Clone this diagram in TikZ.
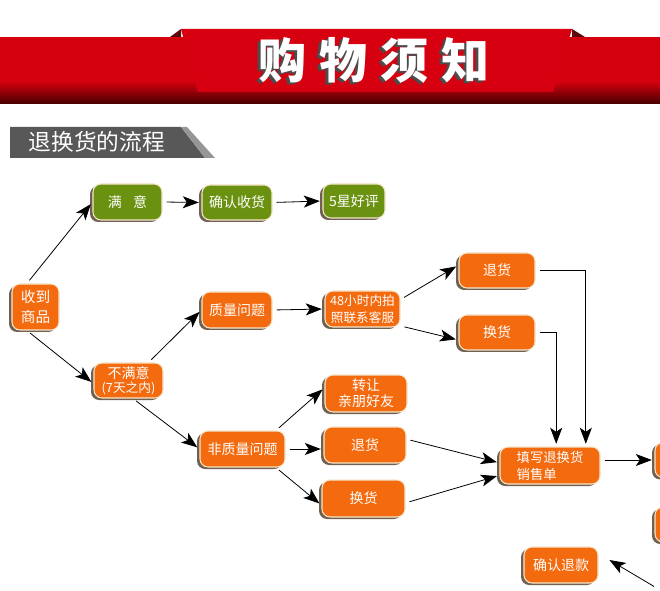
\documentclass[tikz,border=0pt]{standalone}
\usepackage{fontspec}
\usepackage{tikz}
\usetikzlibrary{arrows.meta}
\usetikzlibrary{shadows}
\newfontfamily\cjk{Noto Sans CJK SC}
\definecolor{bandred}{RGB}{212,0,14}
\definecolor{banddark}{RGB}{70,0,0}
\definecolor{ribbonred}{RGB}{214,0,16}
\definecolor{folddark}{RGB}{95,10,10}
\definecolor{tabgray}{RGB}{88,88,88}
\definecolor{tablight}{RGB}{150,150,150}
\definecolor{boxorange}{RGB}{244,106,14}
\definecolor{boxgreen}{RGB}{106,146,16}
\definecolor{boxedge}{RGB}{246,230,204}
\definecolor{boxshadow}{RGB}{112,96,80}

\tikzset{
  box/.style={rounded corners=6pt, draw=boxedge, line width=0.8pt, text=white, inner sep=0pt, align=center,
    font=\cjk\fontsize{10.5}{12.5}\selectfont,
    drop shadow={shadow xshift=-2.2pt, shadow yshift=-1.5pt, fill=boxshadow, opacity=1}},
  obox/.style={box, fill=boxorange},
  gbox/.style={box, fill=boxgreen},
  arr/.style={-{Stealth[length=12pt,width=9pt,inset=3pt]}, line width=0.6pt, shorten <=3pt, shorten >=2pt},
}

\begin{document}
\begin{tikzpicture}[x=0.75pt,y=0.75pt,yscale=-1,xscale=1]
\useasboundingbox (0,0) rectangle (660,591);
\clip (0,0) rectangle (660,591);

%Shape: Banner band
\fill[bandred] (0,37) rectangle (660,82);
\shade[top color=bandred, bottom color=banddark] (0,81.5) rectangle (660,104);
%Shape: Ribbon folds
\fill[folddark] (170,37) -- (181,29) -- (181,37) -- cycle;
\fill[folddark] (572,29) -- (585,37) -- (572,37) -- cycle;
%Shape: Ribbon
\fill[ribbonred] (181,29) -- (572,29) -- (553,92) -- (198,92) -- cycle;
% Text Node
\node[text=black!70, font=\cjk\bfseries\fontsize{36}{36}\selectfont] at (371,62) {购\hspace{10pt}物\hspace{10pt}须\hspace{10pt}知};
\node[text=white, font=\cjk\bfseries\fontsize{36}{36}\selectfont] (title) at (374,60) {购\hspace{10pt}物\hspace{10pt}须\hspace{10pt}知};

%Shape: Section tab
\fill[tabgray] (10,127) -- (181,127) -- (205,158) -- (10,158) -- cycle;
\fill[tablight] (181,127) -- (187,127) -- (215,158) -- (205,158) -- cycle;
% Text Node
\node[anchor=west, text=white, font=\cjk\fontsize{17}{17}\selectfont] (flow) at (24,142) {退换货的流程};

% Flow boxes
\node[obox, minimum width=35.25pt, minimum height=34.5pt, font=\cjk\fontsize{11}{15}\selectfont] (shouhuo) at (35.5,307) {收到\\商品};
\node[gbox, minimum width=51.75pt, minimum height=27pt] (manyi) at (127.5,202) {满\hspace{0.8em}意};
\node[gbox, minimum width=52.5pt, minimum height=26.25pt] (querenshouhuo) at (237,202.5) {确认收货};
\node[gbox, minimum width=46.5pt, minimum height=25.5pt] (haoping) at (354,201) {5星好评};
\node[obox, minimum width=51.75pt, minimum height=26.25pt, font=\cjk\fontsize{10.5}{10.5}\selectfont] (bumanyi) at (128.5,380.5) {不满意\\{\fontsize{9.5}{10}\selectfont(7天之内)}};
\node[obox, minimum width=52.5pt, minimum height=27pt] (zhiliang) at (237,310) {质量问题};
\node[obox, minimum width=63.75pt, minimum height=27pt] (feizhiliang) at (242.5,449) {非质量问题};
\node[obox, minimum width=56.25pt, minimum height=27pt, font=\cjk\fontsize{9.5}{12.5}\selectfont] (kefu) at (362.5,309) {48小时内拍\\照联系客服};
\node[obox, minimum width=57pt, minimum height=26.25pt] (tuihuoA) at (497,270.5) {退货};
\node[obox, minimum width=57pt, minimum height=26.25pt] (huanhuoA) at (497,332.5) {换货};
\node[obox, minimum width=61.5pt, minimum height=27.75pt, font=\cjk\fontsize{10.5}{12}\selectfont] (zhuanrang) at (366,393.5) {转让\\亲朋好友};
\node[obox, minimum width=61.5pt, minimum height=27pt] (tuihuoB) at (365,445) {退货};
\node[obox, minimum width=62.25pt, minimum height=27.75pt] (huanhuoB) at (363.5,498.5) {换货};
\node[obox, minimum width=75pt, minimum height=27.75pt, align=left, font=\cjk\fontsize{10}{12.75}\selectfont] (tianxie) at (550,465.5) {填写退换货\\销售单};
\node[obox, minimum width=55.5pt, minimum height=27pt] (querentuikuan) at (561,565) {确认退款};
\node[obox, minimum width=55.5pt, minimum height=26.25pt] (rightA) at (692,460) {};
\node[obox, minimum width=55.5pt, minimum height=26.25pt] (rightB) at (692,524.5) {};
\node[obox, minimum width=55.5pt, minimum height=26.25pt] (rightC) at (695,606) {};

% Connectors
\draw[arr] (shouhuo.110) -- (manyi.west);
\draw[arr] (shouhuo.250) -- (bumanyi.185);
\draw[arr] (manyi.east) -- (querenshouhuo.west);
\draw[arr] (querenshouhuo.east) -- (haoping.west);
\draw[arr] (bumanyi.42) -- (zhiliang.west);
\draw[arr] (bumanyi.-76) -- (feizhiliang.west);
\draw[arr] (zhiliang.east) -- (kefu.west);
\draw[arr] (kefu.14) -- (tuihuoA.172);
\draw[arr] (kefu.-24) -- (huanhuoA.191);
\draw[arr] (tuihuoA.east) -| (tianxie.28.5);
\draw[arr] (huanhuoA.east) -| (tianxie.72);
\draw[arr] (feizhiliang.29) -- (zhuanrang.172);
\draw[arr] (feizhiliang.east) -- (feizhiliang.east -| tuihuoB.west);
\draw[arr] (feizhiliang.-29) -- (huanhuoB.189);
\draw[arr] (tuihuoB.8) -- (tianxie.177);
\draw[arr] (huanhuoB.-6) -- (tianxie.191);
\draw[arr] (tianxie.east |- rightA.west) -- (rightA.west);
\draw[arr, shorten >=9.5pt] (rightC.155) -- (querentuikuan.17);

\end{tikzpicture}
\end{document}
